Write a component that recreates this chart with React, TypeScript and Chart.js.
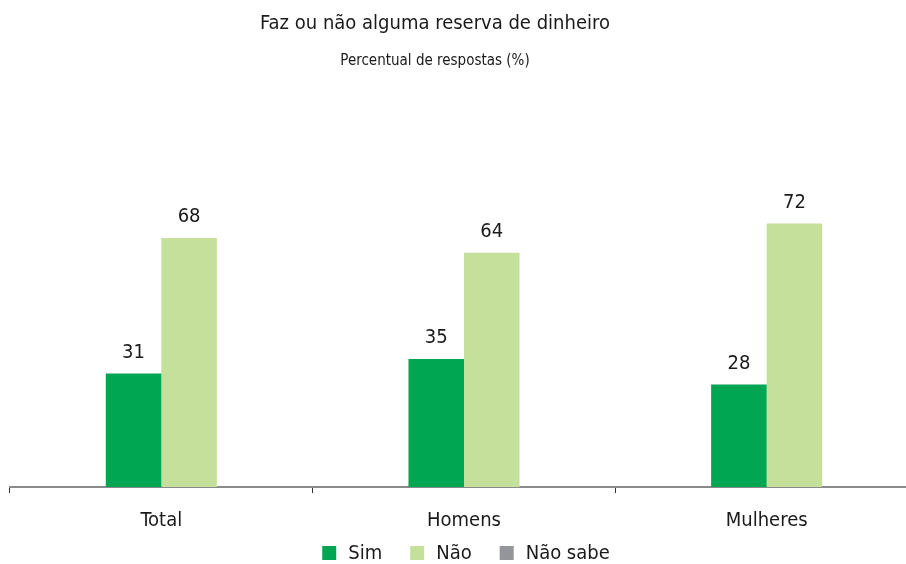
import React, { useEffect, useRef } from "react";
import { Chart, registerables } from "chart.js";

Chart.register(...registerables);

const titleText = "Faz ou não alguma reserva de dinheiro";
const subtitleText = "Percentual de respostas (%)";
const categories = ["Total", "Homens", "Mulheres"];
const seriesNames = ["Sim", "Não", "Não sabe"];
const simValues = [31, 35, 28];
const naoValues = [68, 64, 72];
const naoSabeValues: (number | null)[] = [null, null, null];
const seriesColors = ["#00A651", "#C5E09B", "#939598"];

const FONT = "'Liberation Sans Narrow', 'DejaVu Sans Condensed', 'Roboto', sans-serif";

const overlayPlugin = {
  id: "overlay",
  afterDatasetsDraw(chart: any) {
    const ctx = chart.ctx;
    ctx.save();
    ctx.fillStyle = "#1a1a1a";
    ctx.textAlign = "center";
    ctx.textBaseline = "bottom";
    ctx.font = `20px ${FONT}`;
    chart.data.datasets.forEach((ds: any, di: number) => {
      const meta = chart.getDatasetMeta(di);
      meta.data.forEach((el: any, i: number) => {
        const v = ds.data[i];
        if (v === null || v === undefined) return;
        ctx.fillText(String(v), el.x, el.y - 11);
      });
    });
    ctx.textBaseline = "middle";
    ctx.font = `20px ${FONT}`;
    ctx.fillText(titleText, 435, 24);
    ctx.font = `15px ${FONT}`;
    ctx.fillText(subtitleText, 435, 61);

    // legend
    const box = 14;
    const gapText = 12;
    const gapItem = 28;
    ctx.font = `20px ${FONT}`;
    const items = chart.data.datasets.map((ds: any) => ({
      label: ds.label,
      color: ds.backgroundColor,
      w: ctx.measureText(ds.label).width,
    }));
    const total = items.reduce((s: number, it: any) => s + box + gapText + it.w, 0) + gapItem * (items.length - 1);
    let x = 466 - total / 2;
    const y = 553;
    ctx.textAlign = "left";
    items.forEach((it: any) => {
      ctx.fillStyle = it.color;
      ctx.fillRect(x, y - box / 2, box, box);
      ctx.fillStyle = "#1a1a1a";
      ctx.fillText(it.label, x + box + gapText, y + 1);
      x += box + gapText + it.w + gapItem;
    });
    ctx.restore();
  },
};

export default function App() {
  const ref = useRef<HTMLCanvasElement | null>(null);
  useEffect(() => {
    if (!ref.current) return;
    const chart = new Chart(ref.current, {
      type: "bar",
      data: {
        labels: categories,
        datasets: [
          { label: seriesNames[0], data: simValues, backgroundColor: seriesColors[0] },
          { label: seriesNames[1], data: naoValues, backgroundColor: seriesColors[1] },
          { label: seriesNames[2], data: naoSabeValues, backgroundColor: seriesColors[2] },
        ],
      },
      options: {
        responsive: true,
        maintainAspectRatio: false,
        animation: false,
        skipNull: true,
        categoryPercentage: 0.367,
        barPercentage: 1,
        layout: { padding: { left: 10, right: 2, top: 121, bottom: 15 } },
        plugins: {
          title: { display: false },
          tooltip: { enabled: false },
          legend: { display: false },
        },
        scales: {
          x: {
            grid: {
              display: true,
              drawOnChartArea: false,
              drawTicks: true,
              tickLength: 6,
              color: "#333",
              offset: true,
            },
            border: { display: true, color: "#8a8a8a", width: 2 },
            ticks: {
              color: "#1a1a1a",
              padding: 16,
              font: { family: FONT, size: 20 },
            },
          },
          y: {
            display: false,
            min: 0,
            max: 100,
          },
        },
      },
      plugins: [overlayPlugin],
    } as any);
    return () => chart.destroy();
  }, []);
  return (
    <div style={{ position: "fixed", left: 0, top: 0, width: 906, height: 564, overflow: "hidden", background: "#fff" }}>
      <div style={{ position: "absolute", left: 0, top: 0, width: 920, height: 564 }}>
        <canvas ref={ref} />
      </div>
    </div>
  );
}
